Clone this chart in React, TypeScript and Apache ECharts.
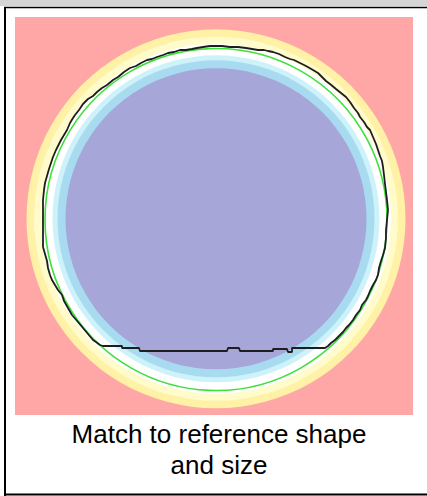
import React, { useEffect, useRef } from "react";
import * as echarts from "echarts";

// Concentric value bands (radius in px units of the plotted field), outermost first
const bandRadii = [189.5, 182, 175, 163.5, 158.5, 150.5];
const bandColors = ["#FFF1A6", "#FFFBCB", "#FFFFFF", "#CDF2FA", "#A8DBF0", "#A6A6D9"];
const fieldCenter = [216, 218.8];
const referenceCenter = [216, 219.5];
const referenceRadius = [171];

// Traced outline (black contour), in field coordinates
const contour: [number, number][] = [
  [43, 247], [43, 232], [43, 215], [43, 200], [44, 190], [45, 183], [47, 176], [49, 169], [51, 163], [53, 157],
  [56, 150], [59, 144], [61, 140], [64, 135], [67, 130], [70, 123], [73, 118], [75, 115], [79, 110], [83, 104],
  [88, 99], [93, 96], [97, 92], [102, 88], [107, 85], [113, 80], [118, 77], [124, 72], [130, 68], [136, 66],
  [141, 63], [147, 60], [152, 59], [157, 57], [163, 55], [168, 53], [174, 52], [180, 50], [186, 50], [192, 49],
  [197, 48], [203, 47], [210, 46], [213, 46], [222, 46], [230, 47], [238, 47], [246, 48], [252, 49], [258, 50],
  [264, 50], [268, 51], [273, 52], [279, 54], [285, 57], [290, 59], [294, 60], [300, 63], [306, 66], [313, 70],
  [318, 73], [323, 78], [326, 81], [330, 84], [336, 89], [341, 93], [346, 97], [350, 102], [354, 108], [358, 113],
  [360, 117], [364, 122], [367, 127], [370, 130], [373, 137], [376, 144], [378, 150], [380, 156], [382, 161], [383, 167],
  [384, 175], [385, 184], [386, 192], [387, 200], [388, 210], [387, 220], [386, 230], [386, 238], [385, 248], [383, 255],
  [381, 261], [379, 268], [378, 275], [376, 280], [373, 285], [370, 291], [368, 296], [366, 300], [362, 305], [360, 310],
  [356, 315], [353, 320], [349, 325], [346, 328], [343, 332], [339, 336], [335, 340], [331, 343], [328, 346], [325, 348],
  [292, 348], [292, 352], [288, 352], [287, 349], [273, 349], [273, 351], [240, 351], [239, 348], [228, 348], [227, 351],
  [140, 351], [139, 348], [122, 348], [122, 346], [103, 346], [100, 345], [96, 342], [93, 340], [88, 334], [83, 328],
  [78, 322], [72, 315], [68, 308], [64, 301], [62, 295], [58, 290], [55, 285], [52, 280], [50, 275], [48, 268],
  [47, 261], [45, 254], [43, 247],
];

const captionLines = ["Match to reference shape", "and size"];

export default function App() {
  const ref = useRef<HTMLDivElement>(null);
  useEffect(() => {
    if (!ref.current) return;
    const chart = echarts.init(ref.current, undefined, { renderer: "svg" });
    const bandData = bandRadii.map((r, i) => [fieldCenter[0], fieldCenter[1], r, i]);
    const circleData = referenceRadius.map((r) => [referenceCenter[0], referenceCenter[1], r]);
    chart.setOption({
      animation: false,
      backgroundColor: "#FFFFFF",
      grid: {
        left: 15,
        top: 17,
        width: 398,
        height: 398,
        show: true,
        backgroundColor: "#FFA6A6",
        borderWidth: 0,
      },
      xAxis: { type: "value", min: 15, max: 413, show: false },
      yAxis: { type: "value", min: 17, max: 415, inverse: true, show: false },
      graphic: [
        { type: "rect", shape: { x: 0, y: 0, width: 427, height: 6 }, style: { fill: "#D5D5D5" } },
        { type: "line", shape: { x1: 5, y1: 7, x2: 5, y2: 496 }, style: { stroke: "#000", lineWidth: 2 } },
        { type: "line", shape: { x1: 4, y1: 7.5, x2: 427, y2: 7.5 }, style: { stroke: "#000", lineWidth: 1.5 } },
        { type: "line", shape: { x1: 4, y1: 494.5, x2: 427, y2: 494.5 }, style: { stroke: "#000", lineWidth: 2 } },
        ...captionLines.map((t, i) => ({
          type: "text",
          x: 219,
          y: 434 + i * 31,
          style: {
            text: t,
            fill: "#000",
            font: "26px 'Liberation Sans', Arial, sans-serif",
            fontSize: 26,
            fontFamily: "'Liberation Sans', Arial, sans-serif",
            align: "center",
            verticalAlign: "middle",
            textAlign: "center",
            textVerticalAlign: "middle",
          },
        })),
      ],
      series: [
        {
          type: "custom",
          z: 1,
          silent: true,
          clip: true,
          data: bandData,
          renderItem: (params: any, api: any) => {
            const c = api.coord([api.value(0), api.value(1)]);
            const s = api.size([api.value(2), api.value(2)]);
            return {
              type: "circle",
              shape: { cx: c[0], cy: c[1], r: s[0] },
              style: { fill: bandColors[api.value(3)] },
            };
          },
        },
        {
          type: "custom",
          z: 2,
          silent: true,
          data: circleData,
          renderItem: (params: any, api: any) => {
            const c = api.coord([api.value(0), api.value(1)]);
            const s = api.size([api.value(2), api.value(2)]);
            return {
              type: "circle",
              shape: { cx: c[0], cy: c[1], r: s[0] },
              style: { fill: "none", stroke: "#3FE03A", lineWidth: 1.6 },
            };
          },
        },
        {
          type: "line",
          z: 3,
          silent: true,
          data: contour,
          symbol: "none",
          lineStyle: { color: "#1E1E1E", width: 1.8 },
        },
      ],
    });
    return () => chart.dispose();
  }, []);
  return (
    <div
      ref={ref}
      style={{ position: "absolute", left: 0, top: 0, width: 427, height: 496 }}
    />
  );
}
